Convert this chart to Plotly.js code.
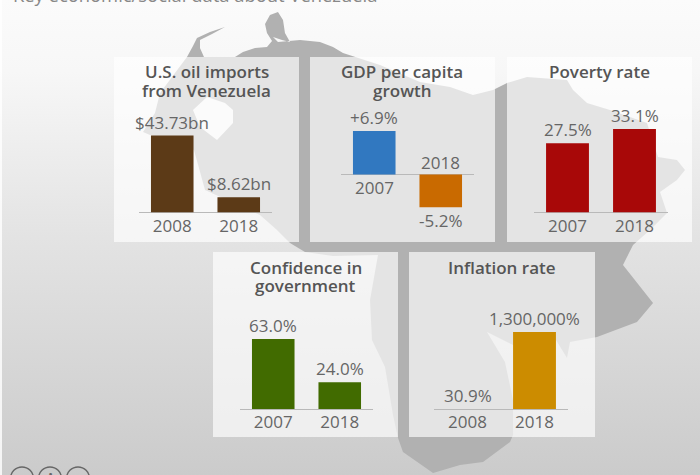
<!DOCTYPE html>
<html><head><meta charset="utf-8">
<script src="https://cdn.plot.ly/plotly-3.0.1.min.js"></script>
<style>html,body{margin:0;padding:0;width:700px;height:475px;overflow:hidden;background:linear-gradient(to bottom,#fbfbfb 0%,#f7f7f7 15%,#e3e3e3 50%,#cbcbcb 100%);}#c{width:700px;height:475px}</style>
</head><body><div id="c"></div>
<script>
var W=700,H=475;
var titles=[["U.S. oil imports","from Venezuela"],["GDP per capita","growth"],["Poverty rate"],["Confidence in","government"],["Inflation rate"]];
var oilYears=["2008","2018"], oilValues=[43.73,8.62], oilLabels=["$43.73bn","$8.62bn"];
var gdpYears=["2007","2018"], gdpValues=[6.9,-5.2], gdpLabels=["+6.9%","-5.2%"];
var povYears=["2007","2018"], povValues=[27.5,33.1], povLabels=["27.5%","33.1%"];
var confYears=["2007","2018"], confValues=[63.0,24.0], confLabels=["63.0%","24.0%"];
var inflYears=["2008","2018"], inflValues=[30.9,1300000], inflLabels=["30.9%","1,300,000%"];
var subtitle="Key economic/social data about Venezuela";

var panels=[
 {yrs:oilYears,v:oilValues,l:oilLabels,c:["#5c3a17","#5c3a17"],px:[114,299],py:[57,242],dx:[139,272],base:212.5,scale:77/43.73,t:titles[0]},
 {yrs:gdpYears,v:gdpValues,l:gdpLabels,c:["#3178c0","#c96a00"],px:[310,495],py:[57,242],dx:[341,474],base:174.5,scale:43.5/6.9,t:titles[1],custom:true},
 {yrs:povYears,v:povValues,l:povLabels,c:["#a80808","#a80808"],px:[507,692],py:[57,242],dx:[534,668],base:212.5,scale:83.5/33.1,t:titles[2]},
 {yrs:confYears,v:confValues,l:confLabels,c:["#416b00","#416b00"],px:[213,398],py:[252,437],dx:[240,373],base:409,scale:70/63,t:titles[3]},
 {yrs:inflYears,v:inflValues,l:inflLabels,c:["#cc8c00","#cc8c00"],px:[409,595],py:[252,437],dx:[434,568],base:409,scale:77/1300000,t:titles[4]}
];
var mapOutline=[[187,57],[193,46],[197,38],[210,32],[225,27],[212,34],[200,40],[200,48],[204,57],[235,57],[243,52],[255,48],[267,47],[272,41],[267,33],[265,24],[270,15],[278,12],[283,20],[285,33],[290,42],[282,40],[273,37],[278,42],[300,40],[320,42],[333,47],[343,53],[380,65],[420,82],[450,87],[473,95],[493,90],[507,83],[527,77],[567,80],[573,90],[587,103],[610,110],[647,123],[658,157],[677,160],[685,170],[677,180],[660,192],[667,213],[650,230],[633,245],[623,265],[653,303],[637,322],[597,337],[570,342],[567,358],[556,340],[513,345],[487,332],[505,362],[513,400],[513,435],[510,442],[483,462],[460,465],[433,473],[403,452],[398,438],[393,415],[385,367],[372,340],[370,300],[378,255],[333,256],[305,252],[290,243],[277,230],[260,215],[205,190],[194,150],[150,135],[143,132],[155,113],[160,93]];
var lakeOutline=[[207,97],[225,103],[233,110],[233,123],[217,140],[200,127],[193,110]];
function toPath(pts){return pts.map(function(p,i){return (i?'L':'M')+(p[0]/W).toFixed(4)+','+(1-p[1]/H).toFixed(4)}).join(' ')+' Z';}
var shapes=[
 {type:'rect',xref:'paper',yref:'paper',x0:0,x1:2/W,y0:0,y1:1,line:{width:0},fillcolor:'rgba(255,255,255,0.8)',layer:'below'},
 {type:'path',xref:'paper',yref:'paper',path:toPath(mapOutline),fillcolor:'#b1b1b1',line:{width:0},layer:'below'},
 {type:'path',xref:'paper',yref:'paper',path:toPath(lakeOutline),fillcolor:'#f4f4f4',line:{width:0},layer:'below'}
];
var annotations=[];
var traces=[];
var layout={width:W,height:H,margin:{l:0,r:0,t:0,b:0},paper_bgcolor:'rgba(0,0,0,0)',plot_bgcolor:'rgba(0,0,0,0)',showlegend:false,shapes:shapes,annotations:annotations,font:{family:'"Open Sans",sans-serif',color:'#666'}};
var lbl={family:'"Open Sans",sans-serif',size:17,color:'#666'};
panels.forEach(function(p,i){
 var n=i?String(i+1):'';
 shapes.push({type:'rect',xref:'paper',yref:'paper',x0:p.px[0]/W,x1:p.px[1]/W,y0:1-p.py[1]/H,y1:1-p.py[0]/H,line:{width:0},fillcolor:'rgba(255,255,255,0.66)',layer:'below'});
 var lo=p.custom?-40/p.scale:0, hi=100/p.scale;
 var yDom=[1-(p.base-lo*p.scale)/H, 1-(p.base-hi*p.scale)/H];
 layout['xaxis'+n]={domain:[p.dx[0]/W,p.dx[1]/W],anchor:'y'+n,type:'category',range:[-0.5,1.5],showgrid:false,zeroline:false,showline:false,ticks:'',fixedrange:true,showticklabels:!p.custom,tickfont:lbl,ticklabelstandoff:1};
 layout['yaxis'+n]={domain:yDom,anchor:'x'+n,range:[lo,hi],showgrid:false,zeroline:true,zerolinecolor:'#b9b9b9',zerolinewidth:1,showticklabels:false,ticks:'',fixedrange:true};
 traces.push({type:'bar',x:p.yrs,y:p.v,xaxis:'x'+n,yaxis:'y'+n,width:0.64,marker:{color:p.c,line:{width:0}},hoverinfo:'skip'});
 p.v.forEach(function(val,k){
  annotations.push({xref:'x'+n,yref:'y'+n,x:k,y:val,yanchor:val<0?'top':'bottom',xanchor:'center',showarrow:false,text:p.l[k],font:lbl});
 });
 p.t.forEach(function(line,k){
  annotations.push({xref:'paper',yref:'paper',x:(p.px[0]+p.px[1])/2/W,y:1-(p.py[0]+15+k*18.5)/H,yanchor:'middle',xanchor:'center',showarrow:false,text:line,font:{family:'"Open Sans",sans-serif',size:17,color:'#555',weight:600}});
 });
 if(p.custom){
  annotations.push({xref:'x'+n,yref:'y'+n,x:0,y:0,yanchor:'top',xanchor:'center',showarrow:false,text:p.yrs[0],font:lbl,yshift:1});
  annotations.push({xref:'x'+n,yref:'y'+n,x:1,y:0,yanchor:'bottom',xanchor:'center',showarrow:false,text:p.yrs[1],font:lbl,yshift:-1});
 }
});
annotations.push({xref:'paper',yref:'paper',x:11/W,y:1+5/H,xanchor:'left',yanchor:'middle',showarrow:false,text:subtitle,font:{family:'"Open Sans",sans-serif',size:18.4,color:'#888'}});
annotations.push({xref:'paper',yref:'paper',x:50/W,y:1-480/H,xanchor:'center',yanchor:'middle',showarrow:false,text:'i',font:{family:'"Open Sans",sans-serif',size:17,color:'#666',weight:700}});
[22,50,78].forEach(function(cx){shapes.push({type:'circle',xref:'paper',yref:'paper',x0:(cx-11.5)/W,x1:(cx+11.5)/W,y0:1-490/H,y1:1-467/H,line:{width:1.4,color:'#666'},fillcolor:'rgba(0,0,0,0)',layer:'above'});});
Plotly.newPlot('c',traces,layout,{displayModeBar:false,staticPlot:true});
</script></body></html>
